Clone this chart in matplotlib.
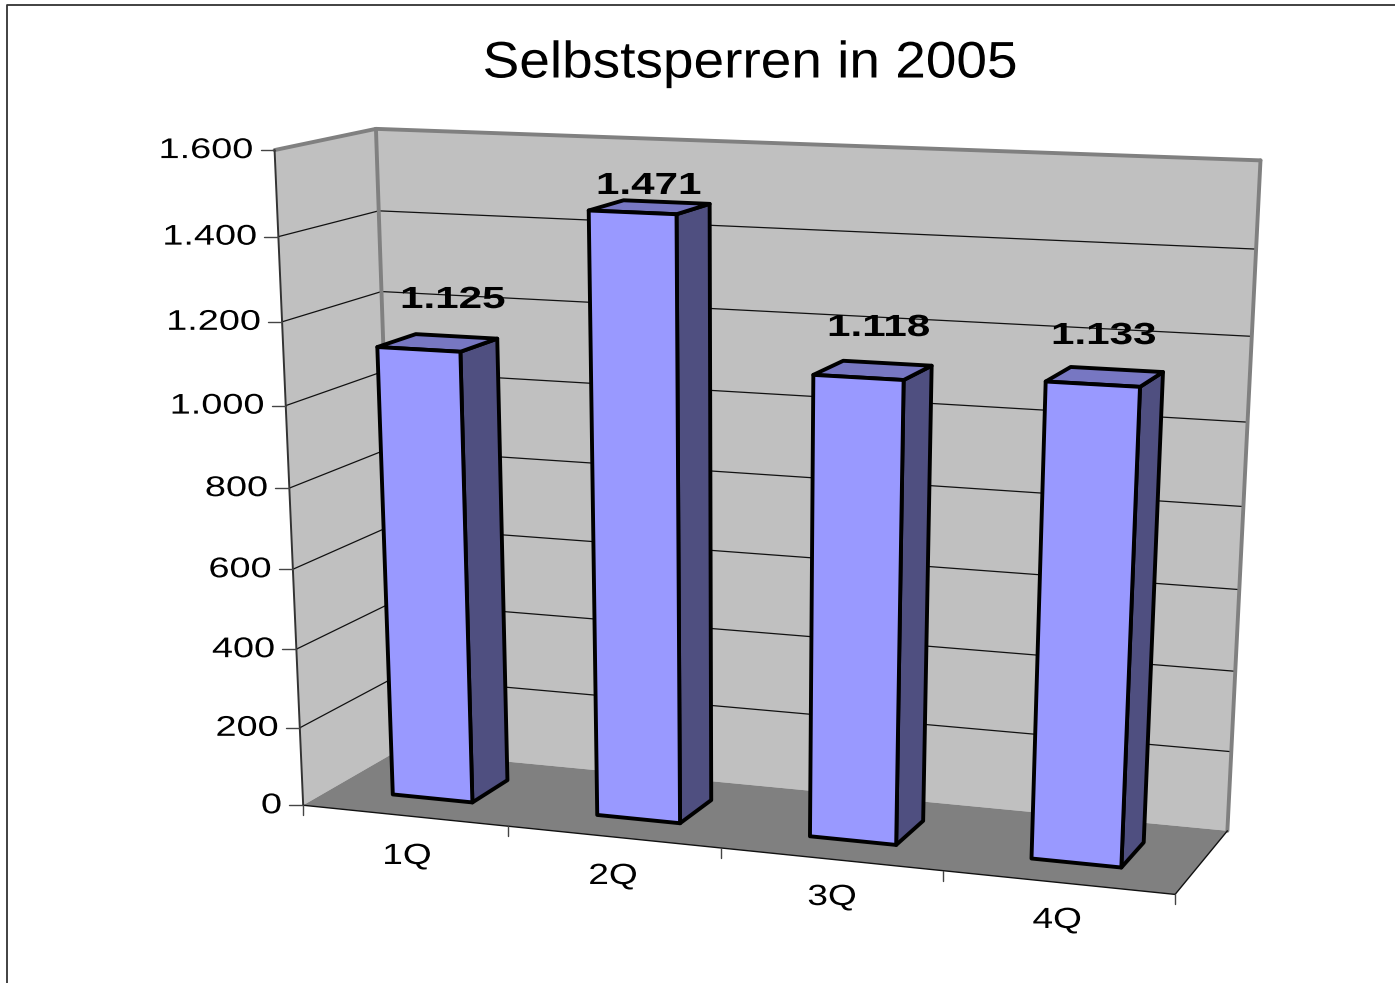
#!/usr/bin/env python3
"""Selbstsperren in 2005: Excel style 3D column chart drawn with a fitted perspective."""

import matplotlib

matplotlib.use("Agg")
import matplotlib.pyplot as plt
import numpy as np
from matplotlib.patches import Polygon
from matplotlib.patheffects import AbstractPathEffect
from matplotlib.transforms import Affine2D

TITLE = "Selbstsperren in 2005"
quarters = ["1Q", "2Q", "3Q", "4Q"]
values = [1125, 1471, 1118, 1133]
y_ticks = [0, 200, 400, 600, 800, 1000, 1200, 1400, 1600]

WALL = "#C0C0C0"
FLOOR = "#808080"
BAR_FRONT = "#9999FF"
BAR_TOP = "#7777C2"
BAR_SIDE = "#4F4F80"

BAR_HALF = 0.197
DEPTH_FRONT, DEPTH_BACK = 0.30, 0.70

# reference points of the plot box: (category pos, depth, value) -> (px, py)
calibration = [
    ((0, 0, 0), (302, 805)),
    ((4, 0, 0), (1173, 893)),
    ((0, 1, 0), (398, 749)),
    ((4, 1, 0), (1228, 832)),
    ((0, 0, 1600), (275, 149)),
    ((0, 1, 1600), (377, 128)),
    ((4, 1, 1600), (1261, 160)),
    ((1, 0, 0), (507, 827)),
    ((2, 0, 0), (723, 849)),
    ((3, 0, 0), (945, 871)),
    ((0, 1, 1400), (378, 212)),
    ((0, 1, 1200), (380, 293)),
    ((4, 1, 1400), (1256, 248)),
    ((4, 1, 1200), (1251, 337)),
    ((0, 0, 1400), (279, 238)),
    ((0, 0, 1200), (282, 321)),
]


def fit_camera(points):
    rows = []
    for (x, y, z), (u, v) in points:
        X = [x, y, z / 1600.0, 1.0]
        rows.append(X + [0, 0, 0, 0] + [-u * c for c in X])
        rows.append([0, 0, 0, 0] + X + [-v * c for c in X])
    _, _, vt = np.linalg.svd(np.array(rows, dtype=float))
    return vt[-1].reshape(3, 4)


P = fit_camera(calibration)


def proj(x, y, z):
    h = P @ np.array([x, y, z / 1600.0, 1.0])
    return h[0] / h[2], h[1] / h[2]


class StretchX(AbstractPathEffect):
    """Widen a text around its anchor, the source image was stretched."""

    def __init__(self, sx, ha="center"):
        super().__init__()
        self.sx = sx
        self.ha = ha

    def draw_path(self, renderer, gc, tpath, affine, rgbFace=None):
        ext = tpath.get_extents()
        cx = ext.x1 if self.ha == "right" else 0.5 * (ext.x0 + ext.x1)
        tr = Affine2D().translate(-cx, 0).scale(self.sx, 1).translate(cx, 0) + affine
        renderer.draw_path(gc, tpath, tr, rgbFace)


def label(ax, x, y, s, size, sx, weight="normal", ha="center"):
    t = ax.text(x, y, s, fontsize=size, fontweight=weight, ha=ha, va="center",
                color="black", family=["Liberation Sans", "DejaVu Sans"])
    t.set_path_effects([StretchX(sx, ha)])
    return t


def fmt(v):
    return f"{v:,}".replace(",", ".")


def poly(ax, corners, face, edge="none", lw=0.0, z=1):
    ax.add_patch(Polygon(corners, closed=True, facecolor=face, edgecolor=edge,
                         linewidth=lw, joinstyle="round", zorder=z))


def line(ax, a, b, color, lw, z=2):
    ax.plot([a[0], b[0]], [a[1], b[1]], color=color, linewidth=lw, zorder=z,
            solid_capstyle="round")


def draw_box(ax):
    top = y_ticks[-1]
    n = len(quarters)
    poly(ax, [proj(0, 1, 0), proj(n, 1, 0), proj(n, 1, top), proj(0, 1, top)], WALL)
    poly(ax, [proj(0, 0, 0), proj(0, 1, 0), proj(0, 1, top), proj(0, 0, top)], WALL)
    poly(ax, [proj(0, 0, 0), proj(n, 0, 0), proj(n, 1, 0), proj(0, 1, 0)], FLOOR)

    for v in y_ticks[1:-1]:
        line(ax, proj(0, 0, v), proj(0, 1, v), "#111111", 0.9)
        line(ax, proj(0, 1, v), proj(n, 1, v), "#111111", 0.9)

    line(ax, proj(0, 0, top), proj(0, 1, top), FLOOR, 2.8, 3)
    line(ax, proj(0, 1, top), proj(n, 1, top), FLOOR, 2.8, 3)
    line(ax, proj(0, 1, 0), proj(0, 1, top), FLOOR, 2.8, 3)
    line(ax, proj(n, 1, 0), proj(n, 1, top), FLOOR, 2.8, 3)
    line(ax, proj(0, 0, 0), proj(0, 0, top), "#333333", 1.4, 3)
    line(ax, proj(0, 0, 0), proj(n, 0, 0), "#111111", 1.0, 3)
    line(ax, proj(n, 0, 0), proj(n, 1, 0), "#111111", 1.0, 3)

    for v in y_ticks:
        px, py = proj(0, 0, v)
        line(ax, (px - 14, py), (px, py), "#444444", 1.0, 3)
        label(ax, px - 21.5, py + 1, fmt(v), 20.5, 1.33, ha="right")
    for i in range(n + 1):
        px, py = proj(i, 0, 0)
        line(ax, (px, py), (px, py + 10), "#444444", 1.0, 3)


def draw_bars(ax):
    for i, v in enumerate(values):
        x0, x1 = i + 0.5 - BAR_HALF, i + 0.5 + BAR_HALF
        d0, d1 = DEPTH_FRONT, DEPTH_BACK
        kw = dict(edge="black", lw=2.8, z=5 + i)
        poly(ax, [proj(x1, d0, 0), proj(x1, d1, 0), proj(x1, d1, v), proj(x1, d0, v)],
             BAR_SIDE, **kw)
        poly(ax, [proj(x0, d0, v), proj(x1, d0, v), proj(x1, d1, v), proj(x0, d1, v)],
             BAR_TOP, **kw)
        poly(ax, [proj(x0, d0, 0), proj(x1, d0, 0), proj(x1, d0, v), proj(x0, d0, v)],
             BAR_FRONT, **kw)


def main():
    fig = plt.figure(figsize=(13.95, 9.83), dpi=100)
    ax = fig.add_axes([0, 0, 1, 1])
    ax.set_xlim(0, 1395)
    ax.set_ylim(983, 0)
    ax.axis("off")

    # chart area border, only top and left are inside the crop
    ax.plot([7, 7, 1395], [983, 5, 5], color="#333333", linewidth=1.3, zorder=1)

    draw_box(ax)
    draw_bars(ax)

    label(ax, 750, 64, TITLE, 37, 1.07)
    for s, (px, py) in zip(quarters, [(407, 856), (613, 876), (832, 897), (1057, 920)]):
        label(ax, px, py, s, 21, 1.27)
    for v, (px, py) in zip(values, [(453, 300), (649, 186), (879, 328), (1104, 336)]):
        t = label(ax, px, py, fmt(v), 22, 1.38, weight="bold")
        t.set_zorder(20)

    fig.savefig("out.png", dpi=100)
    plt.close(fig)


if __name__ == "__main__":
    main()
